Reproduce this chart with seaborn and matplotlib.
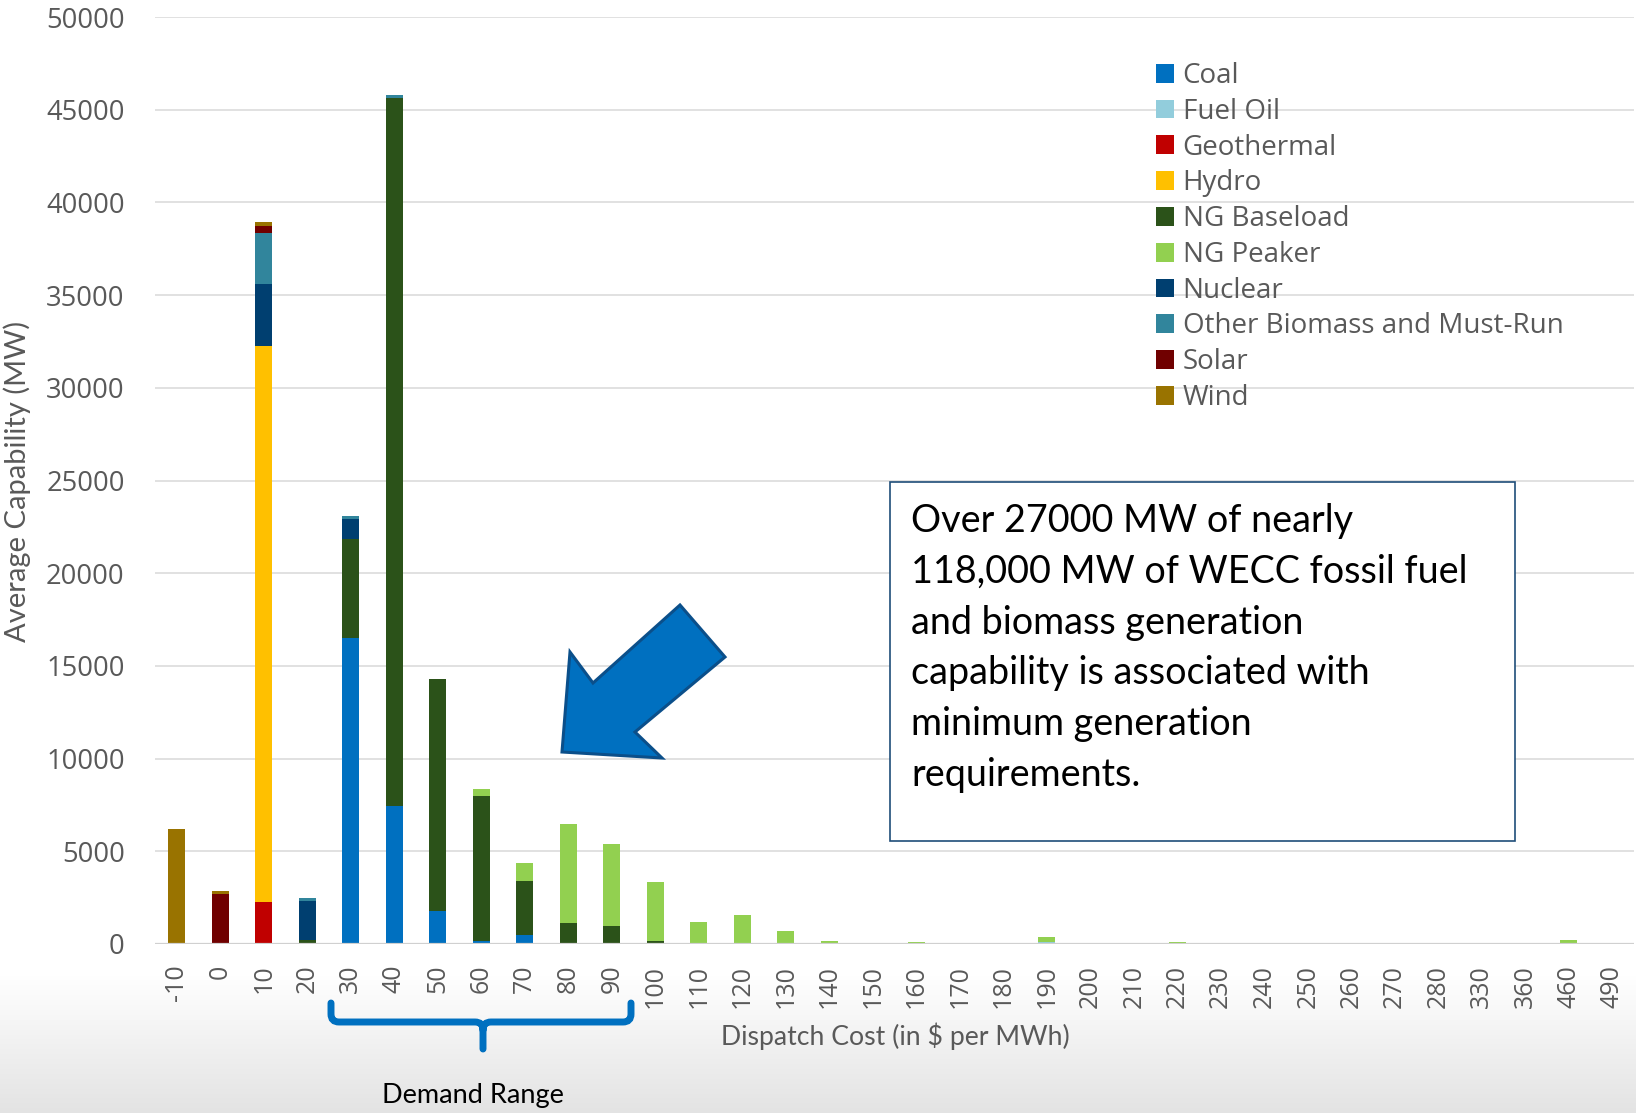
import numpy as np
import pandas as pd
import matplotlib
matplotlib.use("Agg")
import matplotlib.pyplot as plt
import seaborn as sns
from matplotlib.patches import Patch, Polygon, Rectangle, PathPatch
from matplotlib.path import Path

# %% Data
cost_labels = ["-10", "0", "10", "20", "30", "40", "50", "60", "70", "80", "90",
               "100", "110", "120", "130", "140", "150", "160", "170", "180", "190",
               "200", "210", "220", "230", "240", "250", "260", "270", "280",
               "330", "360", "460", "490"]

#            -10    0     10    20    30     40     50     60    70    80    90   100   110   120  130  140 150 160 170 180 190 200 210 220 230 240 250 260 270 280 330 360 460 490
coal     = [   0,    0,     0,    0, 16500,  7450,  1760,  150,  470,    0,    0,    0,    0,    0,   0,   0,  0,  0,  0,  0,  0,  0,  0,  0,  0,  0,  0,  0,  0,  0,  0,  0,  0,  0]
fuel_oil = [   0,    0,     0,    0,     0,     0,     0,    0,    0,    0,    0,    0,    0,    0,   0,   0,  0,  0,  0,  0,100,  0,  0,  0,  0,  0,  0, 50,  0,  0,  0,  0,  0,  0]
geotherm = [   0,    0,  2270,    0,     0,     0,     0,    0,    0,    0,    0,    0,    0,    0,   0,   0,  0,  0,  0,  0,  0,  0,  0,  0,  0,  0,  0,  0,  0,  0,  0,  0,  0,  0]
hydro    = [   0,    0, 30000,    0,     0,     0,     0,    0,    0,    0,    0,    0,    0,    0,   0,   0,  0,  0,  0,  0,  0,  0,  0,  0,  0,  0,  0,  0,  0,  0,  0,  0,  0,  0]
ng_base  = [   0,    0,     0,  200,  5350, 38200, 12550, 7820, 2940, 1130,  980,  150,    0,    0,   0,   0,  0,  0,  0,  0,  0,  0,  0,  0,  0,  0,  0,  0,  0,  0,  0,  0, 60,  0]
ng_peak  = [   0,    0,     0,    0,     0,     0,     0,  390,  960, 5340, 4440, 3200, 1200, 1540, 690, 180,  0, 90,  0,  0,300,  0,  0, 90,  0,  0,  0,  0,  0,  0,  0,  0,140,  0]
nuclear  = [   0,    0,  3310, 2100,  1060,     0,     0,    0,    0,    0,    0,    0,    0,    0,   0,   0,  0,  0,  0,  0,  0,  0,  0,  0,  0,  0,  0,  0,  0,  0,  0,  0,  0,  0]
biomass  = [   0,    0,  2760,  180,   180,   150,     0,    0,    0,    0,    0,    0,    0,    0,   0,   0,  0,  0,  0,  0,  0,  0,  0,  0,  0,  0,  0,  0,  0,  0,  0,  0,  0,  0]
solar    = [   0, 2700,   400,    0,     0,     0,     0,    0,    0,    0,    0,    0,    0,    0,   0,   0,  0,  0,  0,  0,  0,  0,  0,  0,  0,  0,  0,  0,  0,  0,  0,  0,  0,  0]
wind     = [6200,  180,   190,    0,     0,     0,     0,    0,    0,    0,    0,    0,    0,    0,   0,   0,  0,  0,  0,  0,  0,  0,  0,  0,  0,  0,  0,  0,  0,  0,  0,  0,  0,  0]

fuel_names = ["Coal", "Fuel Oil", "Geothermal", "Hydro", "NG Baseload", "NG Peaker",
              "Nuclear", "Other Biomass and Must-Run", "Solar", "Wind"]
fuel_colors = ["#0070c0", "#92cddc", "#c00000", "#ffc000", "#2b5219", "#92d050",
               "#003f70", "#31859c", "#700000", "#997300"]

y_ticks = list(range(0, 50001, 5000))

note_text = ("Over 27000 MW of nearly\n118,000 MW of WECC fossil fuel\n"
             "and biomass generation\ncapability is associated with\n"
             "minimum generation\nrequirements.")

# %% Table
df = pd.DataFrame({"cost": cost_labels})
for name, vals in zip(fuel_names, [coal, fuel_oil, geotherm, hydro, ng_base, ng_peak,
                                   nuclear, biomass, solar, wind]):
    df[name] = vals
cum = df[fuel_names].cumsum(axis=1)

# %% Plot
sns.set_style("white")
plt.rcParams['font.family'] = ['Open Sans', 'DejaVu Sans']

W, H = 1636, 1113
fig = plt.figure(figsize=(W / 100, H / 100), dpi=100)

def fp(x, y):
    # pixel (from top-left) -> figure fraction
    return (x / W, 1 - y / H)

#-- background with grey fade at the bottom
bg = fig.add_axes([0, 0, 1, 1], zorder=-10)
grad = np.ones((H, 1))
rows = np.arange(H)
start = 975
grad[rows >= start, 0] = 1 - (rows[rows >= start] - start) / (H - start) * 0.11
bg.imshow(np.repeat(grad, 3, axis=1).reshape(H, 1, 3), aspect='auto',
          extent=[0, 1, 0, 1], vmin=0, vmax=1)
bg.axis('off')

ax = fig.add_axes([155 / W, 1 - 944 / H, 1479 / W, 927 / H])
ax.set_facecolor('none')

# stacked bars: draw cumulative totals from top layer down
for i in range(len(fuel_names) - 1, -1, -1):
    sns.barplot(x=df["cost"], y=cum[fuel_names[i]], order=cost_labels,
                color=fuel_colors[i], saturation=1, width=0.385,
                errorbar=None, linewidth=0, ax=ax)

ax.set_xlim(-0.5, len(cost_labels) - 0.5)
ax.set_ylim(0, 50000)
ax.set_yticks(y_ticks)
ax.set_yticklabels([str(v) for v in y_ticks])
ax.grid(axis='y', color='#d9d9d9', linewidth=1.1)
ax.set_axisbelow(True)
ax.axhline(0, color='#d0d0d0', linewidth=1.6, zorder=1)
for s in ax.spines.values():
    s.set_visible(False)

ax.tick_params(axis='y', length=0, pad=21.8, labelsize=19.7, labelcolor='#595959')
ax.tick_params(axis='x', length=0, pad=15, labelsize=18, labelcolor='#595959',
               labelrotation=90)
ax.set_xlabel("")
ax.set_ylabel("")

fig.text(*fp(895, 1036), "Dispatch Cost (in $ per MWh)", ha='center', va='center',
         fontsize=19.2, color='#595959', family=['Lato', 'DejaVu Sans'])
fig.text(*fp(17, 481), "Average Capability (MW)", ha='center', va='center',
         rotation=90, fontsize=21, color='#595959', family=['Lato', 'DejaVu Sans'])

#-- legend
handles = [Patch(facecolor=c, edgecolor='none', label=n)
           for n, c in zip(fuel_names, fuel_colors)]
ax.legend(handles=handles, loc='upper left', bbox_to_anchor=fp(1156, 62),
          bbox_transform=fig.transFigure, frameon=False, fontsize=20,
          handlelength=0.66, handleheight=0.66, handletextpad=0.3,
          labelspacing=0.28, borderpad=0, borderaxespad=0, labelcolor='#595959')

#-- text box
box = Rectangle(fp(890, 841), 625 / W, 359 / H, transform=fig.transFigure,
                facecolor='white', edgecolor='#1f4e79', linewidth=1.2, zorder=5)
fig.patches.append(box)
fig.text(*fp(911, 503), note_text, ha='left', va='top', fontsize=27.2,
         linespacing=1.51, color='black', family=['Lato', 'DejaVu Sans'], zorder=6)

#-- block arrow
arrow_px = [(562, 752), (570, 652), (593, 683), (680, 605), (725, 657),
            (635, 732), (662, 758)]
arrow = Polygon([fp(x, y) for x, y in arrow_px], closed=True,
                transform=fig.transFigure, facecolor='#0070c0',
                edgecolor='#0b4f8a', linewidth=2.2, joinstyle='miter', zorder=6)
fig.patches.append(arrow)

#-- demand range brace
r = 8
brace_pts = [
    (Path.MOVETO, fp(331, 1003)),
    (Path.LINETO, fp(331, 1022 - r)),
    (Path.CURVE3, fp(331, 1022)),
    (Path.CURVE3, fp(331 + r, 1022)),
    (Path.LINETO, fp(483 - r, 1022)),
    (Path.CURVE3, fp(483, 1022)),
    (Path.CURVE3, fp(483, 1022 + r)),
    (Path.LINETO, fp(483, 1049)),
    (Path.MOVETO, fp(483, 1022 + r)),
    (Path.CURVE3, fp(483, 1022)),
    (Path.CURVE3, fp(483 + r, 1022)),
    (Path.LINETO, fp(631 - r, 1022)),
    (Path.CURVE3, fp(631, 1022)),
    (Path.CURVE3, fp(631, 1022 - r)),
    (Path.LINETO, fp(631, 1003)),
]
codes, verts = zip(*brace_pts)
brace = PathPatch(Path(verts, codes), transform=fig.transFigure, facecolor='none',
                  edgecolor='#0070c0', linewidth=5, capstyle='round', zorder=6)
fig.patches.append(brace)
fig.text(*fp(473, 1095), "Demand Range", ha='center', va='center', fontsize=19.5,
         color='black', family=['Lato', 'DejaVu Sans'])

fig.savefig("out.png", dpi=100)
plt.close(fig)
